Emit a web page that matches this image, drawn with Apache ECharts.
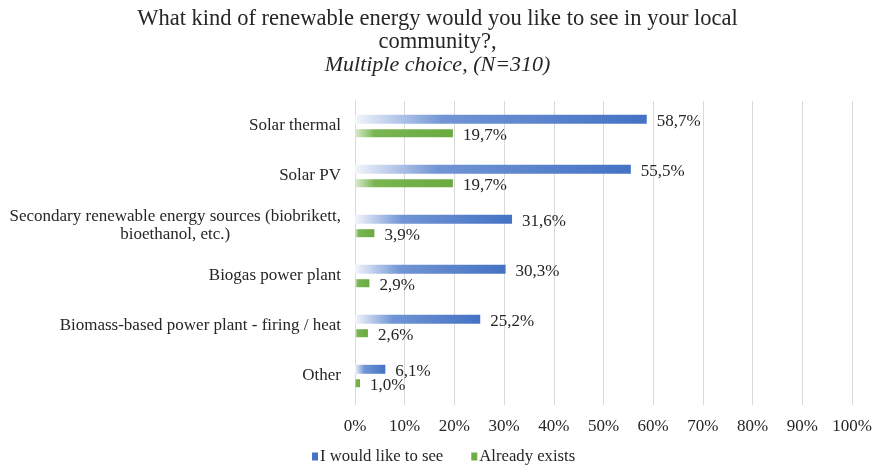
<!DOCTYPE html>
<html><head><meta charset="utf-8">
<script src="https://cdn.jsdelivr.net/npm/echarts@6/dist/echarts.min.js"></script>
<style>html,body{margin:0;padding:0;background:#fff}#c{width:875px;height:471px}</style>
</head><body><div id="c"></div>
<script>
const categories = ['Solar thermal', 'Solar PV', 'Secondary renewable energy sources (biobrikett,\nbioethanol, etc.)', 'Biogas power plant', 'Biomass-based power plant - firing / heat', 'Other'];
const seriesNames = ['I would like to see', 'Already exists'];
const likeToSee = [58.7, 55.5, 31.6, 30.3, 25.2, 6.1];
const alreadyExists = [19.7, 19.7, 3.9, 2.9, 2.6, 1.0];
const xTicks = [0, 10, 20, 30, 40, 50, 60, 70, 80, 90, 100];

const FONT = '"Liberation Serif", "Times New Roman", serif';
const chart = echarts.init(document.getElementById('c'), null, {renderer: 'canvas'});
const fmt = p => p.value.toFixed(1).replace('.', ',') + '%';
const grad = (c0, cm, c1, s) => new echarts.graphic.LinearGradient(0, 0, 1, 0, [
  {offset: 0, color: c0}, {offset: s, color: cm}, {offset: 1, color: c1}]);

chart.setOption({
  animation: false,
  backgroundColor: '#fff',
  title: {
    text: 'What kind of renewable energy would you like to see in your local\ncommunity?,\n{i|Multiple choice, (N=310)}',
    left: 'center', top: 3,
    textStyle: {fontFamily: FONT, fontSize: 22.5, fontWeight: 'normal', color: '#262626', lineHeight: 23,
      rich: {i: {fontStyle: 'italic', fontFamily: FONT, fontSize: 22, color: '#262626', lineHeight: 23}}}
  },
  legend: {
    bottom: 1, left: 307, itemWidth: 6, itemHeight: 8, itemGap: 28, icon: 'rect',
    textStyle: {fontFamily: FONT, fontSize: 16.7, color: '#262626', padding: [0, 0, 0, -3]},
    data: [{name: seriesNames[0], itemStyle: {color: '#4472c4'}}, {name: seriesNames[1], itemStyle: {color: '#70ad47'}}]
  },
  grid: {left: 355, right: 23, top: 101, bottom: 70, containLabel: false},
  xAxis: {
    type: 'value', min: xTicks[0], max: xTicks[xTicks.length - 1], interval: 10,
    axisLine: {show: false},
    axisTick: {show: true, length: 4, lineStyle: {color: '#d9d9d9'}},
    splitLine: {show: true, lineStyle: {color: '#d9d9d9', width: 1}},
    axisLabel: {fontFamily: FONT, fontSize: 17, color: '#262626', margin: 17, formatter: v => v + '%'}
  },
  yAxis: {
    type: 'category', inverse: true, data: categories,
    axisLine: {show: true, lineStyle: {color: '#d9d9d9'}},
    axisTick: {show: false},
    axisLabel: {fontFamily: FONT, fontSize: 17, color: '#262626', margin: 14, lineHeight: 18,
      formatter: v => v.split('\n').map(s => '{c|' + s + '}').join('\n'),
      rich: {c: {align: 'center', fontFamily: FONT, fontSize: 17, color: '#262626', lineHeight: 18}}}
  },
  series: [
    {name: seriesNames[0], type: 'bar', data: likeToSee, barWidth: 9, barGap: '60%',
      itemStyle: {color: grad('#f2f5fb', '#7195d5', '#4472c4', 0.3)},
      label: {show: true, position: 'right', distance: 10, offset: [0, 2], formatter: fmt,
        fontFamily: FONT, fontSize: 17, color: '#262626'}},
    {name: seriesNames[1], type: 'bar', data: alreadyExists, barWidth: 8,
      itemStyle: {color: grad('#d8ebcb', '#79b552', '#6aab40', 0.2)},
      label: {show: true, position: 'right', distance: 10, offset: [0, 2], formatter: fmt,
        fontFamily: FONT, fontSize: 17, color: '#262626'}}
  ]
});
</script></body></html>
